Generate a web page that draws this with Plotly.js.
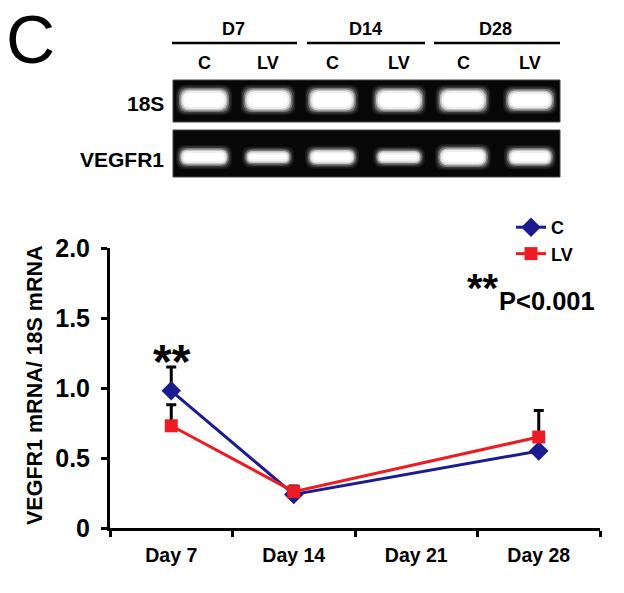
<!DOCTYPE html>
<html><head><meta charset="utf-8">
<script src="https://cdn.plot.ly/plotly-3.0.1.min.js"></script>
<style>html,body{margin:0;padding:0;background:#fff}</style>
</head><body><div id="chart" style="width:624px;height:593px"></div>
<script>
// ---- data ----
const categories = ['Day 7', 'Day 14', 'Day 21', 'Day 28'];
const sampleDays = ['Day 7', 'Day 14', 'Day 28'];
const controlMean = [0.98, 0.24, 0.55];
const controlErr = [0.17, 0.05, 0];
const lvMean = [0.73, 0.26, 0.65];
const lvErr = [0.15, 0.04, 0.19];
const yTickVals = [0, 0.5, 1, 1.5, 2];
const yTickText = ['0', '0.5', '1.0', '1.5', '2.0'];
const gelGroups = ['D7', 'D14', 'D28'];
const gelLanes = ['C', 'LV', 'C', 'LV', 'C', 'LV'];
const gelRows = ['18S', 'VEGFR1'];

// ---- layout helpers (pixels -> paper) ----
const W = 624, H = 593;
const fx = p => p / W;
const fy = p => 1 - p / H;
const ARIAL = 'Arial, Liberation Sans, sans-serif';

const shapes = [];
const annotations = [];

// panel letter
annotations.push({xref:'paper', yref:'paper', x:fx(30), y:1, text:'C', showarrow:false, borderpad:0,
  font:{family:ARIAL, size:68, color:'#000'}, xanchor:'center', yanchor:'top'});

// group headers + underlines
const groupSpans = [[172, 297], [307, 425], [434, 560]];
gelGroups.forEach((g, i) => {
  const [a, b] = groupSpans[i];
  shapes.push({type:'line', xref:'paper', yref:'paper', x0:fx(a), x1:fx(b), y0:fy(43), y1:fy(43),
    line:{color:'#000', width:2.5}});
  annotations.push({xref:'paper', yref:'paper', x:fx((a + b) / 2 - 1), y:fy(29), text:g, showarrow:false,
    font:{family:ARIAL, size:18, color:'#000', weight:'bold'}, xanchor:'center', yanchor:'middle'});
});

// lane labels
const laneX = [204, 268, 332, 399, 463, 530];
gelLanes.forEach((l, i) => {
  annotations.push({xref:'paper', yref:'paper', x:fx(laneX[i]), y:fy(63), text:l, showarrow:false,
    font:{family:ARIAL, size:18, color:'#000', weight:'bold'}, xanchor:'center', yanchor:'middle'});
});

// gel boxes and bands
const rowBox = [[80, 122], [130, 177]];
const bandH = [[22, 22, 22, 22, 22, 20], [16, 13, 15, 13, 18, 16]];
const bandW = [[48, 47, 46, 47, 47, 46], [48, 44, 46, 44, 48, 44]];
const bandCY = [100, 157];
function pill(cx, cy, w, h) {
  const r = Math.min(h / 2, 9);
  const x0 = cx - w / 2, x1 = cx + w / 2, y0 = cy - h / 2, y1 = cy + h / 2;
  const P = (x, y) => fx(x) + ',' + fy(y);
  return 'M' + P(x0 + r, y0) + ' L' + P(x1 - r, y0) + ' Q' + P(x1, y0) + ' ' + P(x1, y0 + r) +
    ' L' + P(x1, y1 - r) + ' Q' + P(x1, y1) + ' ' + P(x1 - r, y1) + ' L' + P(x0 + r, y1) +
    ' Q' + P(x0, y1) + ' ' + P(x0, y1 - r) + ' L' + P(x0, y0 + r) + ' Q' + P(x0, y0) + ' ' + P(x0 + r, y0) + ' Z';
}
gelRows.forEach((row, ri) => {
  const [t, b] = rowBox[ri];
  shapes.push({type:'rect', xref:'paper', yref:'paper', x0:fx(173), x1:fx(560), y0:fy(t), y1:fy(b),
    fillcolor:'#070707', line:{color:'#444', width:1}, layer:'below'});
  laneX.forEach((cx, li) => {
    const w = bandW[ri][li], h = bandH[ri][li], cy = bandCY[ri];
    const layers = [[8, '#1a1a1a'], [5, '#3a3a3a'], [2, '#777777'], [-1, '#c4c4c4'], [-4, '#efefef'], [-8, '#ffffff']];
    layers.forEach(([d, c]) => {
      shapes.push({type:'path', xref:'paper', yref:'paper', path:pill(cx, cy, w + d, h + d),
        fillcolor:c, line:{width:0}, layer:'below'});
    });
  });
  annotations.push({xref:'paper', yref:'paper', x:fx(166), y:fy(bandCY[ri] + 3), text:row, showarrow:false,
    font:{family:ARIAL, size:21, color:'#000', weight:'bold'}, xanchor:'right', yanchor:'middle'});
});

// y-axis title
annotations.push({xref:'paper', yref:'paper', x:fx(35), y:fy(385), text:'VEGFR1 mRNA/ 18S mRNA', showarrow:false,
  textangle:-90, font:{family:ARIAL, size:21.5, color:'#000', weight:'bold'}, xanchor:'center', yanchor:'middle'});

// significance annotations
annotations.push({xref:'paper', yref:'paper', x:fx(172), y:fy(361), text:'**', showarrow:false,
  font:{family:ARIAL, size:48, color:'#000', weight:'bold'}, xanchor:'center', yanchor:'middle'});
annotations.push({xref:'paper', yref:'paper', x:fx(483), y:fy(288), text:'**', showarrow:false,
  font:{family:ARIAL, size:40, color:'#000', weight:'bold'}, xanchor:'center', yanchor:'middle'});
annotations.push({xref:'paper', yref:'paper', x:fx(547), y:fy(301), text:'P<0.001', showarrow:false,
  font:{family:ARIAL, size:25.5, color:'#000', weight:'bold'}, xanchor:'center', yanchor:'middle'});

const BLUE = '#1c1c90', RED = '#ec1c24';
const traces = [
  {x:sampleDays, y:controlMean, name:'C', type:'scatter', mode:'lines+markers',
   line:{color:BLUE, width:3}, marker:{symbol:'diamond', size:15, color:BLUE},
   error_y:{type:'data', array:controlErr, arrayminus:controlErr.map(() => 0), symmetric:false,
     color:'#000', thickness:3, width:5}},
  {x:sampleDays, y:lvMean, name:'LV', type:'scatter', mode:'lines+markers',
   line:{color:RED, width:3}, marker:{symbol:'square', size:13, color:RED},
   error_y:{type:'data', array:lvErr, arrayminus:lvErr.map(() => 0), symmetric:false,
     color:'#000', thickness:3, width:5}}
];

const layout = {
  width:W, height:H, margin:{l:0, r:0, t:0, b:0},
  paper_bgcolor:'#fff', plot_bgcolor:'rgba(0,0,0,0)',
  showlegend:true,
  legend:{x:fx(511), y:fy(209), xanchor:'left', yanchor:'top', bgcolor:'rgba(0,0,0,0)',
    font:{family:ARIAL, size:18, color:'#000', weight:'bold'}, tracegroupgap:0},
  xaxis:{domain:[fx(110), fx(600)], type:'category', categoryorder:'array', categoryarray:categories,
    range:[-0.5, 3.5], tickson:'boundaries', ticks:'outside', ticklen:6, tickwidth:3, tickcolor:'#000',
    showline:true, linewidth:3, linecolor:'#000', showgrid:false, zeroline:false, fixedrange:true,
    ticklabelstandoff:8, tickfont:{family:ARIAL, size:19.5, color:'#000', weight:'bold'}},
  yaxis:{domain:[fy(528), fy(248)], range:[0, 2], tickvals:yTickVals, ticktext:yTickText,
    ticks:'outside', ticklen:6, tickwidth:3, tickcolor:'#000', showline:true, linewidth:3, linecolor:'#000',
    showgrid:false, zeroline:false, fixedrange:true, ticklabelstandoff:6,
    tickfont:{family:ARIAL, size:25, color:'#000', weight:'bold'}},
  shapes:shapes, annotations:annotations
};

Plotly.newPlot('chart', traces, layout, {displayModeBar:false, staticPlot:true});
</script>
</body></html>
